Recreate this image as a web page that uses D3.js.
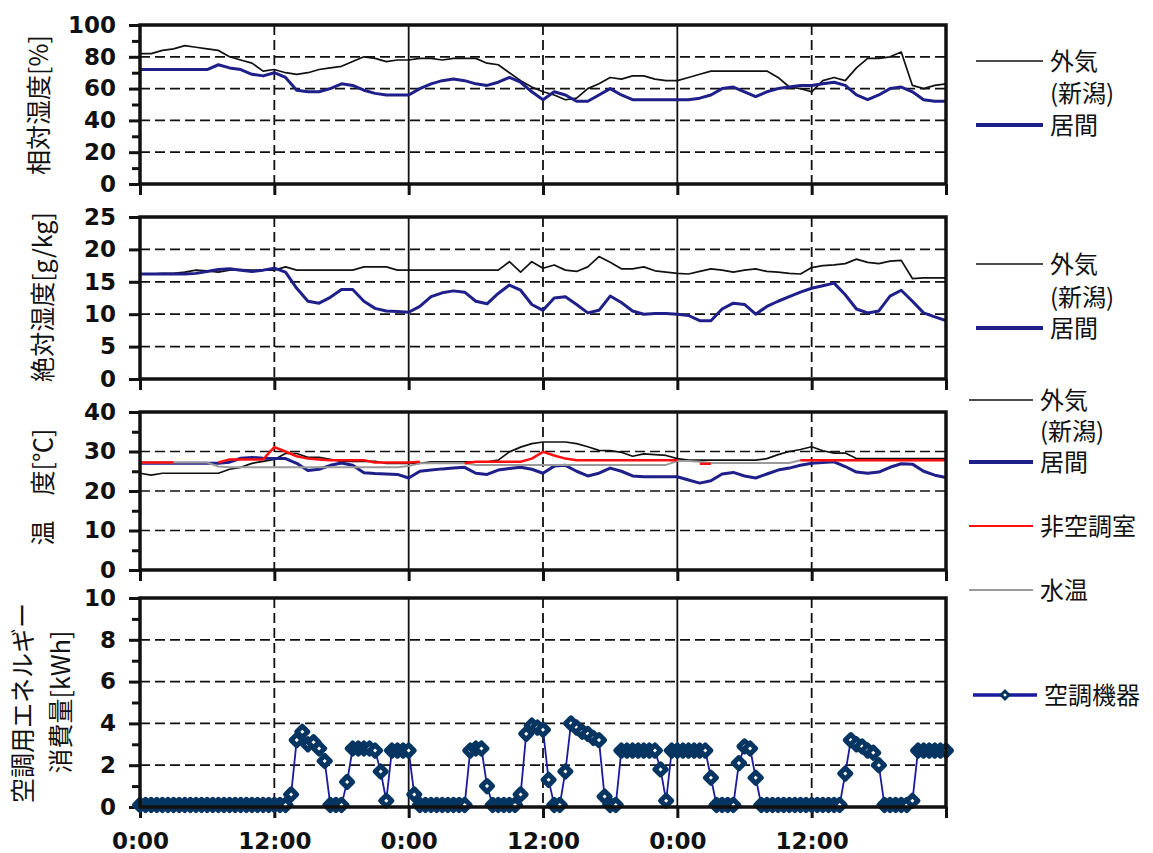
<!DOCTYPE html>
<html>
<head>
<meta charset="utf-8">
<script src="https://cdn.jsdelivr.net/npm/d3@7"></script>
<style>
  body { margin: 0; background: #fff; }
  text { font-family: "DejaVu Sans", sans-serif; fill: #111; }
  .jp { font-family: "Noto Sans CJK JP", sans-serif; }
</style>
</head>
<body>
<svg id="chart" width="1153" height="853"></svg>
<script>
// hourly values, 0:00 day 1 .. 0:00 day 4 (73 points)
var rhOut = [82,82,84,85,87,86,85,84,80,78,76,71,72,70,69,70,72,73,74,77,80,79,77,78,78,
  79,79,78,79,79,79,76,75,70,65,61,58,56,53,54,60,63,67,66,68,68,66,65,
  65,67,69,71,71,71,71,71,71,67,61,60,58,65,67,65,73,79,79,80,83,62,60,62,63];
var rhRoom = [72,72,72,72,72,72,72,75,73,72,69,68,70,67,59,58,58,60,63,62,59,57,56,56,56,
  60,63,65,66,65,63,62,64,67,64,58,53,58,56,52,52,56,60,56,53,53,53,53,
  53,53,54,56,60,61,58,55,58,60,61,62,62,63,64,62,56,53,56,60,61,58,53,52,52];

var ahOut = [16.2,16.2,16.3,16.3,16.5,16.8,16.7,16.5,16.8,16.9,16.8,16.8,16.8,17.3,16.8,16.8,16.8,16.8,16.8,16.8,17.3,17.3,17.3,16.8,16.8,
  16.8,16.8,16.8,16.8,16.8,16.8,16.8,16.8,18.1,16.5,18.1,17.1,17.6,16.8,16.6,17.3,18.9,18.0,17.0,17.0,17.3,16.7,16.5,
  16.3,16.2,16.6,17.0,16.8,16.5,16.8,17.0,16.6,16.5,16.3,16.2,17.2,17.5,17.6,17.8,18.5,18.0,17.8,18.2,18.3,15.5,15.6,15.6,15.6];
var ahRoom = [16.2,16.2,16.2,16.2,16.2,16.3,16.6,16.9,17.0,16.8,16.6,16.8,17.1,16.5,14.0,12.0,11.7,12.6,13.8,13.8,12.0,10.9,10.5,10.4,10.3,
  11.2,12.7,13.3,13.6,13.4,12.0,11.6,13.2,14.5,13.7,11.5,10.6,12.5,12.7,11.5,10.2,10.6,12.8,11.8,10.5,10.0,10.1,10.1,
  10.0,9.8,9.0,9.0,10.8,11.7,11.5,10.0,11.2,12.0,12.7,13.4,14.0,14.4,14.8,13.0,10.8,10.2,10.5,12.8,13.7,12.0,10.2,9.6,9.0];

var tOut = [24.5,24.0,24.5,24.5,24.5,24.5,24.5,24.5,25.5,26.0,27.0,27.5,28.0,29.5,29.5,28.5,28.5,28.0,27.5,27.5,27.5,27.5,27.0,27.0,27.0,
  27.0,27.4,27.4,27.4,27.4,27.4,27.4,27.8,29.9,31.1,32.0,32.4,32.4,32.4,32.0,31.2,30.3,30.2,29.8,28.8,29.4,29.2,29.0,
  28.2,27.8,27.8,27.8,27.8,27.8,27.8,27.8,28.2,29.2,30.0,30.5,31.2,30.2,29.6,29.6,28.2,28.2,28.2,28.2,28.2,28.2,28.2,28.2,28.2];
var tRoom = [27.0,27.0,27.0,27.0,27.0,27.0,27.0,27.0,27.3,28.3,28.5,28.3,28.2,28.2,27.0,25.2,25.5,26.5,27.1,26.5,24.6,24.4,24.3,24.2,23.3,
  25.0,25.3,25.6,25.8,26.0,24.5,24.2,25.3,25.7,26.0,25.5,24.5,26.3,26.5,25.0,23.8,24.5,25.8,25.0,23.8,23.6,23.6,23.6,
  23.6,22.8,22.0,22.6,24.3,24.7,23.8,23.3,24.3,25.3,25.8,26.5,27.0,27.2,27.4,26.2,24.8,24.5,24.8,26.0,26.9,26.8,25.0,24.0,23.4];
var tUncond = [27.2,27.2,27.2,27.2,null,null,null,27.2,28.0,28.0,28.0,28.0,31.1,30.0,28.8,28.2,28.0,27.8,27.8,27.8,27.8,27.2,27.2,27.2,27.2,
  27.4,null,null,null,27.0,27.4,27.4,27.4,27.4,27.4,28.2,29.9,29.0,28.2,27.8,27.8,27.8,27.8,27.8,27.8,27.8,27.8,27.8,
  27.8,null,26.9,26.9,null,null,null,null,null,null,null,27.8,27.8,27.8,27.8,27.8,27.8,27.8,27.8,27.8,27.8,27.8,27.8,27.8,27.8];
var tWater = [27.2,27.2,27.2,27.2,27.2,27.2,27.2,26.2,26.0,26.0,26.0,26.0,26.0,26.0,26.0,26.0,26.0,26.0,26.0,26.0,26.0,26.0,26.0,26.0,26.3,
  27.0,27.0,27.0,27.0,27.0,26.6,26.6,26.6,26.6,26.6,26.6,26.6,26.6,26.6,26.6,26.6,26.6,26.6,26.6,26.6,26.6,26.6,26.6,
  27.6,27.6,27.4,27.1,27.1,27.1,27.1,27.1,27.1,27.1,27.1,27.8,27.8,27.8,27.8,27.8,27.8,27.8,27.8,27.8,27.8,27.8,27.8,27.8,27.8];

// half-hourly energy of the A/C unit [kWh] (145 points)
var energy = [0.1,0.1,0.1,0.1,0.1,0.1,0.1,0.1,0.1,0.1,0.1,0.1,0.1,0.1,0.1,0.1,0.1,0.1,0.1,0.1,0.1,0.1,0.1,0.1,0.1,0.1,0.1,
  0.6,3.2,3.6,3.0,3.1,2.8,2.2,0.1,0.1,0.1,1.2,2.8,2.8,2.8,2.8,2.7,1.7,0.3,2.7,2.7,2.7,2.7,0.6,
  0.1,0.1,0.1,0.1,0.1,0.1,0.1,0.1,0.1,2.7,2.8,2.8,1.0,0.1,0.1,0.1,0.1,0.1,0.6,3.5,3.9,3.8,3.7,1.3,0.1,0.1,
  1.7,4.0,3.8,3.6,3.5,3.3,3.2,0.5,0.1,0.1,2.7,2.7,2.7,2.7,2.7,2.7,2.7,1.8,0.3,2.7,
  2.7,2.7,2.7,2.7,2.7,2.7,1.4,0.1,0.1,0.1,0.1,2.1,2.9,2.8,1.4,0.1,0.1,0.1,0.1,0.1,0.1,0.1,0.1,0.1,0.1,0.1,0.1,0.1,0.1,0.1,
  1.6,3.2,3.0,2.9,2.7,2.6,2.0,0.1,0.1,0.1,0.1,0.1,0.3,2.7,2.7,2.7,2.7,2.7,2.7];

var xTickHours = [0, 12, 24, 36, 48, 60, 72];
var xTickLabels = ["0:00", "12:00", "0:00", "12:00", "0:00", "12:00", ""];

var left = 140, right = 946;
var blue = "#1f1f8a";
var navy = "#063562";
var svg = d3.select("#chart");

var x = d3.scaleLinear().domain([0, 72]).range([left, right]);

var panels = [
  { top: 25, bottom: 184, max: 100, step: 20, minor: 10 },
  { top: 217, bottom: 379, max: 25, step: 5, minor: 0 },
  { top: 412, bottom: 570, max: 40, step: 10, minor: 5 },
  { top: 598, bottom: 807, max: 10, step: 2, minor: 1 }
];

panels.forEach(function(p, k) {
  p.y = d3.scaleLinear().domain([0, p.max]).range([p.bottom, p.top]);
  var g = svg.append("g");
  var major = d3.range(0, p.max + 0.001, p.step);

  // horizontal dashed grid
  g.selectAll(".hg").data(major.filter(v => v > 0 && v < p.max)).enter()
    .append("line")
    .attr("x1", left).attr("x2", right)
    .attr("y1", d => p.y(d)).attr("y2", d => p.y(d))
    .attr("stroke", "#111").attr("stroke-width", 1.7)
    .attr("stroke-dasharray", "10,5");

  // vertical lines: dashed at noon, solid at midnight
  g.selectAll(".vg").data([12, 24, 36, 48, 60]).enter()
    .append("line")
    .attr("x1", d => x(d)).attr("x2", d => x(d))
    .attr("y1", p.top).attr("y2", p.bottom)
    .attr("stroke", "#111").attr("stroke-width", 1.8)
    .attr("stroke-dasharray", d => d % 24 ? "10,5" : null);

  // minor ticks
  if (p.minor) {
    g.append("g")
      .attr("transform", "translate(" + left + ",0)")
      .call(d3.axisLeft(p.y).tickValues(d3.range(p.minor, p.max, p.step)).tickSize(8).tickFormat(""))
      .call(a => a.select(".domain").remove())
      .selectAll("line").attr("stroke", "#111").attr("stroke-width", 3);
  }

  // y axis
  var ya = g.append("g")
    .attr("transform", "translate(" + left + ",0)")
    .call(d3.axisLeft(p.y).tickValues(major).tickSize(11).tickPadding(13));
  ya.select(".domain").remove();
  ya.selectAll("line").attr("stroke", "#111").attr("stroke-width", 3);
  ya.selectAll("text").style("font-size", "23px").style("font-weight", "bold");

  // x axis ticks under each panel
  var xa = g.append("g")
    .attr("transform", "translate(0," + p.bottom + ")")
    .call(d3.axisBottom(x).tickValues(xTickHours).tickSize(11).tickPadding(15)
      .tickFormat((d, i) => k == 3 ? xTickLabels[i] : ""));
  xa.select(".domain").remove();
  xa.selectAll("line").attr("stroke", "#111").attr("stroke-width", 3);
  xa.selectAll("text").style("font-size", "23px").style("font-weight", "bold");

  p.g = g;
});

function drawLine(p, values, color, w) {
  var line = d3.line()
    .defined(d => d != null)
    .x((d, i) => x(i))
    .y(d => p.y(d));
  p.g.append("path").datum(values)
    .attr("d", line)
    .attr("fill", "none")
    .attr("stroke", color)
    .attr("stroke-width", w)
    .attr("stroke-linejoin", "round");
}

drawLine(panels[0], rhOut, "#111", 1.7);
drawLine(panels[0], rhRoom, blue, 3);
drawLine(panels[1], ahOut, "#111", 1.7);
drawLine(panels[1], ahRoom, blue, 3);
drawLine(panels[2], tOut, "#111", 1.7);
drawLine(panels[2], tRoom, blue, 3);
drawLine(panels[2], tWater, "#9a9a9a", 2);
drawLine(panels[2], tUncond, "#ff1010", 2.5);

// energy series with markers (square turned 45 degrees)
var pe = panels[3];
var eLine = d3.line().x((d, i) => x(i / 2)).y(d => pe.y(d));
pe.g.append("path").datum(energy)
  .attr("d", eLine).attr("fill", "none")
  .attr("stroke", "#1a1a9c").attr("stroke-width", 1.8);
var marker = d3.symbol().type(d3.symbolSquare).size(62);
pe.g.selectAll(".mk").data(energy).enter()
  .append("path")
  .attr("d", marker)
  .attr("transform", (d, i) => "translate(" + x(i / 2) + "," + pe.y(d) + ") rotate(45)")
  .attr("fill", "#fff").attr("stroke", navy).attr("stroke-width", 5)
  .attr("stroke-linejoin", "round");

// frames
panels.forEach(function(p) {
  p.g.append("rect")
    .attr("x", left).attr("y", p.top)
    .attr("width", right - left).attr("height", p.bottom - p.top)
    .attr("fill", "none").attr("stroke", "#111").attr("stroke-width", 3.5);
});

// y axis titles
var titles = [
  { t: "相対湿度[%]", x: 39, y: 105 },
  { t: "絶対湿度[g/kg]", x: 43, y: 297 },
  { t: "温　度[℃]", x: 43, y: 487 },
  { t: "空調用エネルギー", x: 23, y: 703 },
  { t: "消費量[kWh]", x: 61, y: 702 }
];
svg.selectAll(".yt").data(titles).enter()
  .append("text")
  .attr("class", "jp")
  .attr("transform", d => "translate(" + d.x + "," + d.y + ") rotate(-90)")
  .attr("text-anchor", "middle")
  .attr("dy", "0.36em")
  .style("font-size", "25px")
  .text(d => d.t);

// legends
var legend = [
  { t: "外気", y: 61, x1: 976, x2: 1043, c: "#111", w: 1.7 },
  { t: "(新潟)", y: 93, x1: 0 },
  { t: "居間", y: 125, x1: 976, x2: 1043, c: blue, w: 4 },
  { t: "外気", y: 264, x1: 976, x2: 1043, c: "#111", w: 1.7 },
  { t: "(新潟)", y: 297, x1: 0 },
  { t: "居間", y: 328, x1: 976, x2: 1043, c: blue, w: 4 },
  { t: "外気", y: 400, x1: 969, x2: 1033, c: "#111", w: 1.7 },
  { t: "(新潟)", y: 431, x1: 0 },
  { t: "居間", y: 462, x1: 969, x2: 1033, c: blue, w: 4 },
  { t: "非空調室", y: 526, x1: 969, x2: 1033, c: "#ff1010", w: 2 },
  { t: "水温", y: 590, x1: 969, x2: 1033, c: "#9a9a9a", w: 2 },
  { t: "空調機器", y: 695, x1: 973, x2: 1037, c: "#1a1a9c", w: 3.5, mark: true }
];
var lg = svg.append("g");
legend.forEach(function(d) {
  var tx = d.y < 380 ? 1050 : 1040;
  if (d.x1) {
    lg.append("line")
      .attr("x1", d.x1).attr("x2", d.x2).attr("y1", d.y).attr("y2", d.y)
      .attr("stroke", d.c).attr("stroke-width", d.w);
    tx = d.x2 + 7;
  }
  if (d.mark) {
    lg.append("path").attr("d", d3.symbol().type(d3.symbolSquare).size(30))
      .attr("transform", "translate(" + ((d.x1 + d.x2) / 2) + "," + d.y + ") rotate(45)")
      .attr("fill", "#fff").attr("stroke", navy).attr("stroke-width", 3);
  }
  lg.append("text").attr("class", "jp")
    .attr("x", tx).attr("y", d.y).attr("dy", "0.36em")
    .style("font-size", "24px")
    .text(d.t);
});
</script>
</body>
</html>
